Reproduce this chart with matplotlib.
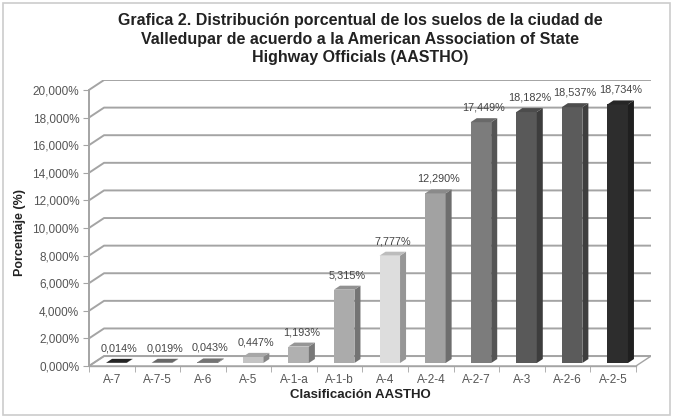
import matplotlib
matplotlib.use("Agg")
import matplotlib.pyplot as plt
from matplotlib.patches import Polygon, Rectangle
import numpy as np

plt.rcParams['font.family'] = ['Liberation Sans', 'DejaVu Sans']

categories = ['A-7', 'A-7-5', 'A-6', 'A-5', 'A-1-a', 'A-1-b', 'A-4',
              'A-2-4', 'A-2-7', 'A-3', 'A-2-6', 'A-2-5']
values = [0.014, 0.019, 0.043, 0.447, 1.193, 5.315, 7.777,
          12.290, 17.449, 18.182, 18.537, 18.734]
labels = ['0,014%', '0,019%', '0,043%', '0,447%', '1,193%', '5,315%', '7,777%',
          '12,290%', '17,449%', '18,182%', '18,537%', '18,734%']
colors = ['#2a2a2a', '#7a7a7a', '#888888', '#c4c4c4', '#b0b0b0', '#ababab',
          '#dddddd', '#a2a2a2', '#7c7c7c', '#595959', '#5b5b5b', '#2d2d2d']
yticks = np.arange(0, 21, 2)
ytick_labels = ['{:,.3f}%'.format(v).replace('.', ',') for v in yticks]

# depth of the pseudo 3d box in data units
dx, dy = 0.33, 0.72
f0, f1 = 0.3, 0.7     # bar position inside the depth
w = 0.45

fig = plt.figure(figsize=(6.73, 4.17), dpi=100)
fig.patches.append(Rectangle((0.005, 0.005), 0.99, 0.988, transform=fig.transFigure,
                             fill=False, edgecolor='#cccccc', lw=1.2))
ax = fig.add_axes([89 / 673, 1 - 366 / 417, 562 / 673, 286 / 417])
n = len(categories)
x = np.arange(n)
ax.set_xlim(-0.5, n - 0.5 + dx)
ax.set_ylim(0, 20 + dy)

grid = '#a4a4a4'
# floor
ax.add_patch(Polygon([(-0.5, 0), (n - 0.5, 0), (n - 0.5 + dx, dy), (-0.5 + dx, dy)],
                     closed=True, facecolor='white', edgecolor=grid, lw=1.0, zorder=1))
# walls: gridlines
for v in yticks:
    ax.plot([-0.5, -0.5 + dx, n - 0.5 + dx], [v, v + dy, v + dy], color=grid, lw=1.4, zorder=1)

# bars
xf = x + f0 * dx
yb = f0 * dy
ddx = (f1 - f0) * dx
ddy = (f1 - f0) * dy
ax.bar(xf, values, width=w, bottom=yb, color=colors, zorder=3, linewidth=0)
for xi, v, c in zip(xf, values, colors):
    rgb = np.array(matplotlib.colors.to_rgb(c))
    x0, x1 = xi - w / 2, xi + w / 2
    top = yb + v
    ax.add_patch(Polygon([(x1, yb), (x1 + ddx, yb + ddy), (x1 + ddx, top + ddy), (x1, top)],
                         closed=True, facecolor=rgb * 0.68, lw=0, zorder=3))
    ax.add_patch(Polygon([(x0, top), (x1, top), (x1 + ddx, top + ddy), (x0 + ddx, top + ddy)],
                         closed=True, facecolor=rgb * 0.85, lw=0, zorder=3))

for xi, v, lab in zip(xf, values, labels):
    ax.annotate(lab, (xi + ddx / 2, yb + v + ddy), xytext=(0, 4), textcoords='offset points',
                ha='center', va='bottom', fontsize=7.8, color='#444444', zorder=4)

for s in ['top', 'right']:
    ax.spines[s].set_visible(False)
ax.spines['left'].set_bounds(0, 20)
ax.spines['bottom'].set_bounds(-0.5, n - 0.5)
ax.spines['left'].set_color(grid)
ax.spines['bottom'].set_color(grid)
ax.spines['left'].set_linewidth(1.4)
ax.spines['bottom'].set_linewidth(1.0)

ax.set_yticks(yticks)
ax.set_yticklabels(ytick_labels)
ax.set_xticks(x)
ax.set_xticklabels(categories)
ax.set_xticks(np.arange(n + 1) - 0.5, minor=True)
ax.tick_params(axis='y', length=4, color=grid, labelsize=8.5, labelcolor='#555555', pad=3)
ax.tick_params(axis='x', which='major', length=0, labelsize=8.5, labelcolor='#555555', pad=6)
ax.tick_params(axis='x', which='minor', length=4, color=grid)

fig.text(20 / 673, 1 - 232 / 417, 'Porcentaje (%)', rotation=90, ha='center', va='center',
         fontsize=9, fontweight='bold', color='#222222')
fig.text(360 / 673, 1 - 395 / 417, 'Clasificación AASTHO', ha='center', va='center',
         fontsize=9.5, fontweight='bold', color='#222222')
fig.text(360 / 673, 1 - 13 / 417,
         'Grafica 2. Distribución porcentual de los suelos de la ciudad de\n'
         'Valledupar de acuerdo a la American Association of State\n'
         'Highway Officials (AASTHO)',
         ha='center', va='top', fontsize=11.5, fontweight='bold', color='#222222',
         linespacing=1.3)

fig.savefig('out.png', dpi=100)
